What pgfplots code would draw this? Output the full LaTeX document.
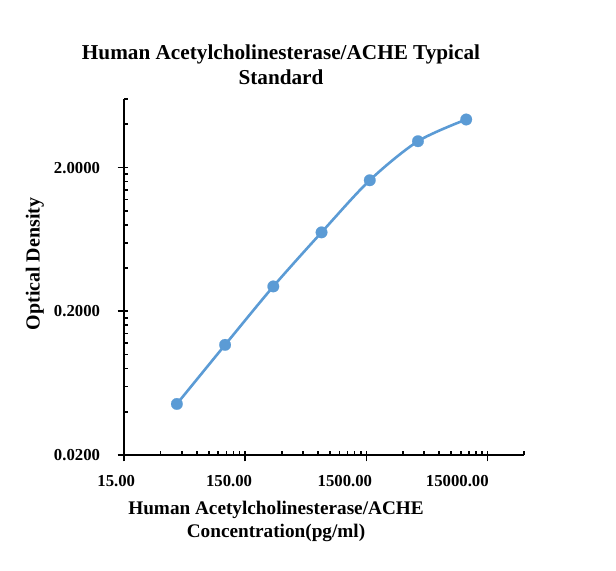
\documentclass[border=0pt]{standalone}
\usepackage{pgfplots}
\pgfplotsset{compat=1.18}
\usepackage{fontspec}
\setmainfont{Liberation Serif}
\definecolor{ser}{HTML}{5B9BD5}
\begin{document}
\begin{tikzpicture}[x=1bp,y=1bp]
\useasboundingbox (0,0) rectangle (616,571);
\begin{axis}[
  at={(124bp,116bp)}, anchor=south west,
  scale only axis, width=400bp, height=356bp,
  xmode=log, ymode=log,
  xmin=15, xmax=30000, ymin=0.02, ymax=6,
  axis lines*=left,
  axis line style={line width=1.6bp, black},
  every tick/.style={black, line width=1.7bp},
  tick align=inside,
  major tick length=4.5bp,
  xtick={15,30,45,60,75,90,105,120,135,150,300,450,600,750,900,1050,1200,1350,1500,3000,4500,6000,7500,9000,10500,12000,13500,15000,30000},
  xticklabels={},
  ytick={0.02,0.04,0.06,0.08,0.1,0.12,0.14,0.16,0.18,0.2,0.4,0.6,0.8,1,1.2,1.4,1.6,1.8,2,4,6},
  yticklabels={},
  extra x ticks={15,150,1500,15000},
  extra x tick labels={15.00\hspace*{-14.6bp},150.00\hspace*{-10.4bp},1500.00\hspace*{-9.2bp},15000.00\hspace*{-4.7bp}},
  extra x tick style={tick align=outside, major tick length=6.5bp,
     xticklabel style={anchor=north east, yshift=-10bp}},
  extra y ticks={0.02,0.2,2},
  extra y tick labels={0.0200,0.2000,2.0000},
  extra y tick style={tick align=outside, major tick length=6.5bp,
     yticklabel style={xshift=-14bp}},
  /pgf/number format/assume math mode=true,
  ticklabel style={font=\fontsize{16.8}{18}\selectfont\bfseries},
  clip=false,
]
\addplot[ser, line width=2.6bp, smooth, mark=*, mark size=5.8bp, mark options={fill=ser, draw=ser, line width=0.2bp}]
 coordinates {
 (40.96,0.0453) (102.4,0.1168) (256,0.2978) (640,0.708) (1600,1.632) (4000,3.05) (10000,4.32)
 };
\end{axis}
\node[anchor=base, font=\fontsize{21.3}{24}\selectfont\bfseries] at (281,511) {Human Acetylcholinesterase/ACHE Typical};
\node[anchor=base, font=\fontsize{21.3}{24}\selectfont\bfseries] at (281,486) {Standard};
\node[anchor=base, font=\fontsize{19.3}{22}\selectfont\bfseries] at (276,56) {Human Acetylcholinesterase/ACHE};
\node[anchor=base, font=\fontsize{19.3}{22}\selectfont\bfseries] at (276,33) {Concentration(pg/ml)};
\node[anchor=base, rotate=90, font=\fontsize{20}{22}\selectfont\bfseries] at (39.5,307) {Optical Density};
\end{tikzpicture}
\end{document}
